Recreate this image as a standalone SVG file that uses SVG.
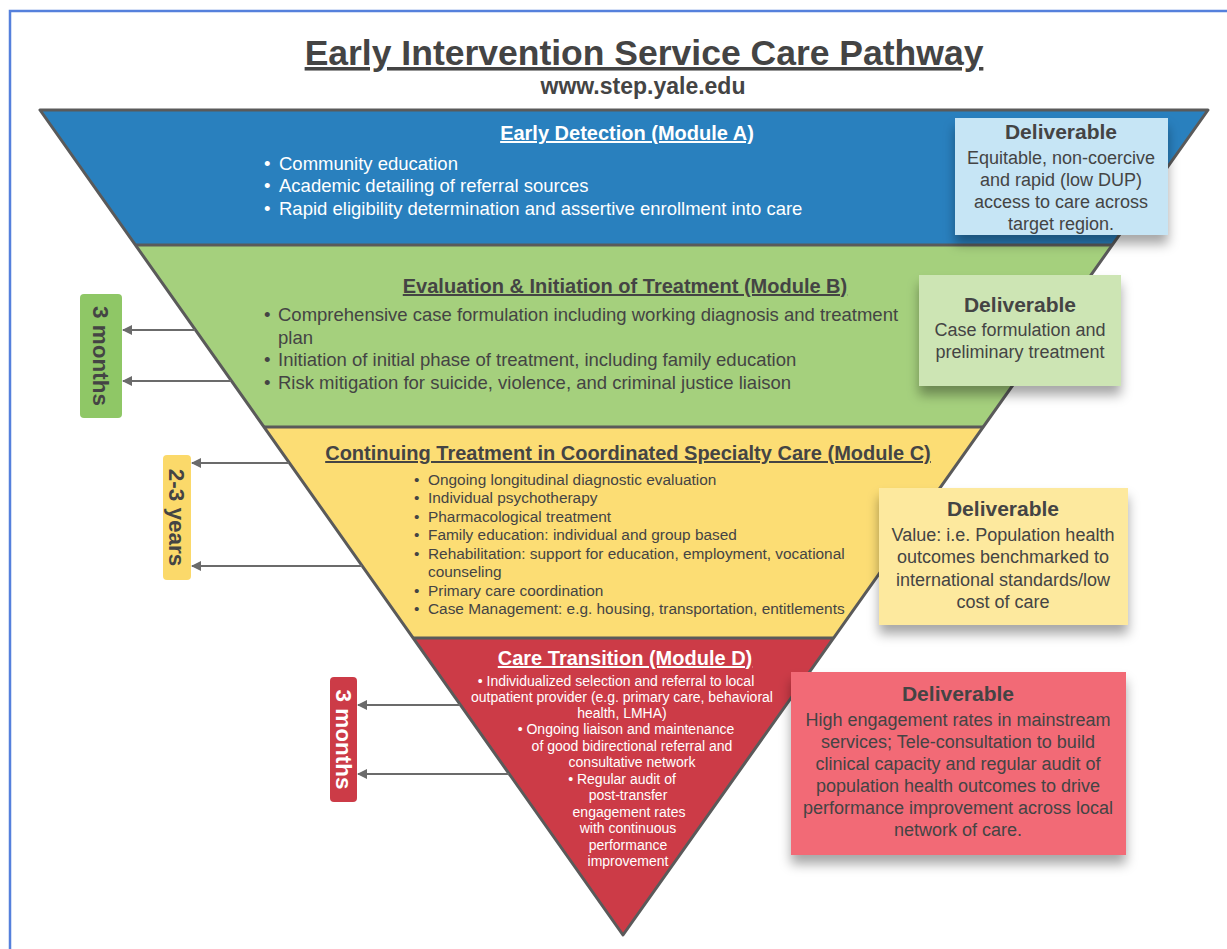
<svg xmlns="http://www.w3.org/2000/svg" width="1227" height="949" viewBox="0 0 1227 949">
<defs>
<style>
text{font-family:"Liberation Sans",Arial,sans-serif;fill:#444;}
.title{font-size:35.5px;font-weight:bold;text-decoration:underline;}
.sub{font-size:23px;font-weight:bold;}
.hdr{font-size:20px;font-weight:bold;text-decoration:underline;}
text.w,.w text{fill:#fff;}
.b18{font-size:18.5px;}
.b15{font-size:15.4px;}
.b14{font-size:14px;}
.dh{font-size:21px;font-weight:bold;}
.dt{font-size:18px;}
.lab{font-size:22.5px;font-weight:bold;}
.sep{stroke:#5a5a5a;stroke-width:3;fill:none;}
.arr{stroke:#6b6b6b;stroke-width:2;fill:none;marker-end:url(#ah);}
.mid{text-anchor:middle;}
</style>
<marker id="ah" viewBox="0 0 10 10" refX="9" refY="5" markerWidth="12" markerHeight="10" markerUnits="userSpaceOnUse" orient="auto">
<path d="M0,0 L10,5 L0,10 z" fill="#6b6b6b"/>
</marker>
<filter id="sh" x="-10%" y="-10%" width="120%" height="140%">
<feDropShadow dx="0" dy="9" stdDeviation="6" flood-color="#000" flood-opacity="0.35"/>
</filter>
</defs>
<rect width="1227" height="949" fill="#fff"/>
<rect x="10" y="11" width="1240" height="960" fill="none" stroke="#5580dc" stroke-width="2.5"/>
<g id="title">
<text class="title mid" x="644" y="65">Early Intervention Service Care Pathway</text>
<text class="sub mid" x="643" y="94">www.step.yale.edu</text>
</g>
<g id="moduleA">
<polygon points="40,110 1208,110 1112.3,245 135.4,245" fill="#2980be"/>
<text class="hdr w mid" x="627" y="140">Early Detection (Module A)</text>
<g class="b18 w">
<text x="264" y="170">•</text><text x="279" y="170">Community education</text>
<text x="264" y="192">•</text><text x="279" y="192">Academic detailing of referral sources</text>
<text x="264" y="215">•</text><text x="279" y="215">Rapid eligibility determination and assertive enrollment into care</text>
</g>
</g>
<g id="moduleB">
<polygon points="135.4,245 1112.3,245 983.2,427 264,427" fill="#a5d07d"/>
<text class="hdr mid" x="625" y="293">Evaluation &amp; Initiation of Treatment (Module B)</text>
<g class="b18">
<text x="264" y="321">•</text><text x="278" y="321">Comprehensive case formulation including working diagnosis and treatment</text>
<text x="278" y="344">plan</text>
<text x="264" y="366">•</text><text x="278" y="366">Initiation of initial phase of treatment, including family education</text>
<text x="264" y="389">•</text><text x="278" y="389">Risk mitigation for suicide, violence, and criminal justice liaison</text>
</g>
</g>
<g id="moduleC">
<polygon points="264,427 983.2,427 833.6,638 413.1,638" fill="#fcdd74"/>
<text class="hdr mid" x="628" y="460">Continuing Treatment in Coordinated Specialty Care (Module C)</text>
<g class="b15">
<text x="414" y="485">•</text><text x="428" y="485">Ongoing longitudinal diagnostic evaluation</text>
<text x="414" y="503">•</text><text x="428" y="503">Individual psychotherapy</text>
<text x="414" y="522">•</text><text x="428" y="522">Pharmacological treatment</text>
<text x="414" y="540">•</text><text x="428" y="540">Family education: individual and group based</text>
<text x="414" y="559">•</text><text x="428" y="559">Rehabilitation: support for education, employment, vocational</text>
<text x="428" y="577">counseling</text>
<text x="414" y="596">•</text><text x="428" y="596">Primary care coordination</text>
<text x="414" y="614">•</text><text x="428" y="614">Case Management: e.g. housing, transportation, entitlements</text>
</g>
</g>
<g id="moduleD">
<polygon points="413.1,638 833.6,638 623,935" fill="#cc3b47"/>
<text class="hdr w mid" x="625" y="665">Care Transition (Module D)</text>
<g class="b14 w mid">
<text x="616" y="686">•   Individualized selection and referral to local</text>
<text x="622" y="702">outpatient provider (e.g. primary care, behavioral</text>
<text x="622" y="718">health, LMHA)</text>
<text x="626" y="734">•   Ongoing liaison and maintenance</text>
<text x="632" y="751">of good bidirectional referral and</text>
<text x="632" y="767">consultative network</text>
<text x="622" y="784">•   Regular audit of</text>
<text x="628" y="800">post-transfer</text>
<text x="629" y="817">engagement rates</text>
<text x="628" y="833">with continuous</text>
<text x="628" y="850">performance</text>
<text x="628" y="866">improvement</text>
</g>
</g>
<g id="outline">
<polygon class="sep" stroke-linejoin="round" points="40,110 1208,110 623,935"/>
<line class="sep" x1="135.4" y1="245" x2="1112.3" y2="245"/>
<line class="sep" x1="264" y1="427" x2="983.2" y2="427"/>
<line class="sep" x1="413.1" y1="638" x2="833.6" y2="638"/>
</g>
<g id="deliverableA">
<rect x="955" y="118" width="213" height="117" fill="#c6e5f5" filter="url(#sh)"/>
<text class="dh mid" x="1061" y="139">Deliverable</text>
<text class="dt mid" x="1061" y="164">Equitable, non-coercive</text>
<text class="dt mid" x="1061" y="186">and rapid (low DUP)</text>
<text class="dt mid" x="1061" y="208">access to care across</text>
<text class="dt mid" x="1061" y="230">target region.</text>
</g>
<g id="deliverableB">
<rect x="919" y="275" width="202" height="111" fill="#cde5b4" filter="url(#sh)"/>
<text class="dh mid" x="1020" y="312">Deliverable</text>
<text class="dt mid" x="1020" y="336">Case formulation and</text>
<text class="dt mid" x="1020" y="358">preliminary treatment</text>
</g>
<g id="deliverableC">
<rect x="879" y="488" width="249" height="137" fill="#fde99e" filter="url(#sh)"/>
<text class="dh mid" x="1003" y="516">Deliverable</text>
<text class="dt mid" x="1003" y="541">Value: i.e. Population health</text>
<text class="dt mid" x="1003" y="563">outcomes benchmarked to</text>
<text class="dt mid" x="1003" y="586">international standards/low</text>
<text class="dt mid" x="1003" y="608">cost of care</text>
</g>
<g id="deliverableD">
<rect x="791" y="672" width="335" height="183" fill="#f26a76" filter="url(#sh)"/>
<text class="dh mid" x="958" y="701">Deliverable</text>
<text class="dt mid" x="958" y="726">High engagement rates in mainstream</text>
<text class="dt mid" x="958" y="748">services; Tele-consultation to build</text>
<text class="dt mid" x="958" y="770">clinical capacity and regular audit of</text>
<text class="dt mid" x="958" y="792">population health outcomes to drive</text>
<text class="dt mid" x="958" y="814">performance improvement across local</text>
<text class="dt mid" x="958" y="836">network of care.</text>
</g>
<g id="label3monthsB">
<rect x="80" y="294" width="42" height="124" rx="4" fill="#8fc766"/>
<text class="lab mid" transform="translate(101,356) rotate(90)" y="8">3 months</text>
</g>
<g id="label23years">
<rect x="163" y="455" width="28" height="125" rx="4" fill="#fbd96a"/>
<text class="lab mid" transform="translate(177,517.5) rotate(90)" y="8">2-3 years</text>
</g>
<g id="label3monthsD">
<rect x="330" y="677" width="27" height="125" rx="4" fill="#cc3b47"/>
<text class="lab mid w" transform="translate(343.5,739.5) rotate(90)" y="8">3 months</text>
</g>
<g id="connectors">
<line class="arr" x1="195" y1="330" x2="123" y2="330"/>
<line class="arr" x1="231" y1="381" x2="123" y2="381"/>
<line class="arr" x1="289" y1="463" x2="192" y2="463"/>
<line class="arr" x1="362" y1="566" x2="192" y2="566"/>
<line class="arr" x1="460" y1="705" x2="358" y2="705"/>
<line class="arr" x1="509" y1="774" x2="358" y2="774"/>
</g>
</svg>
